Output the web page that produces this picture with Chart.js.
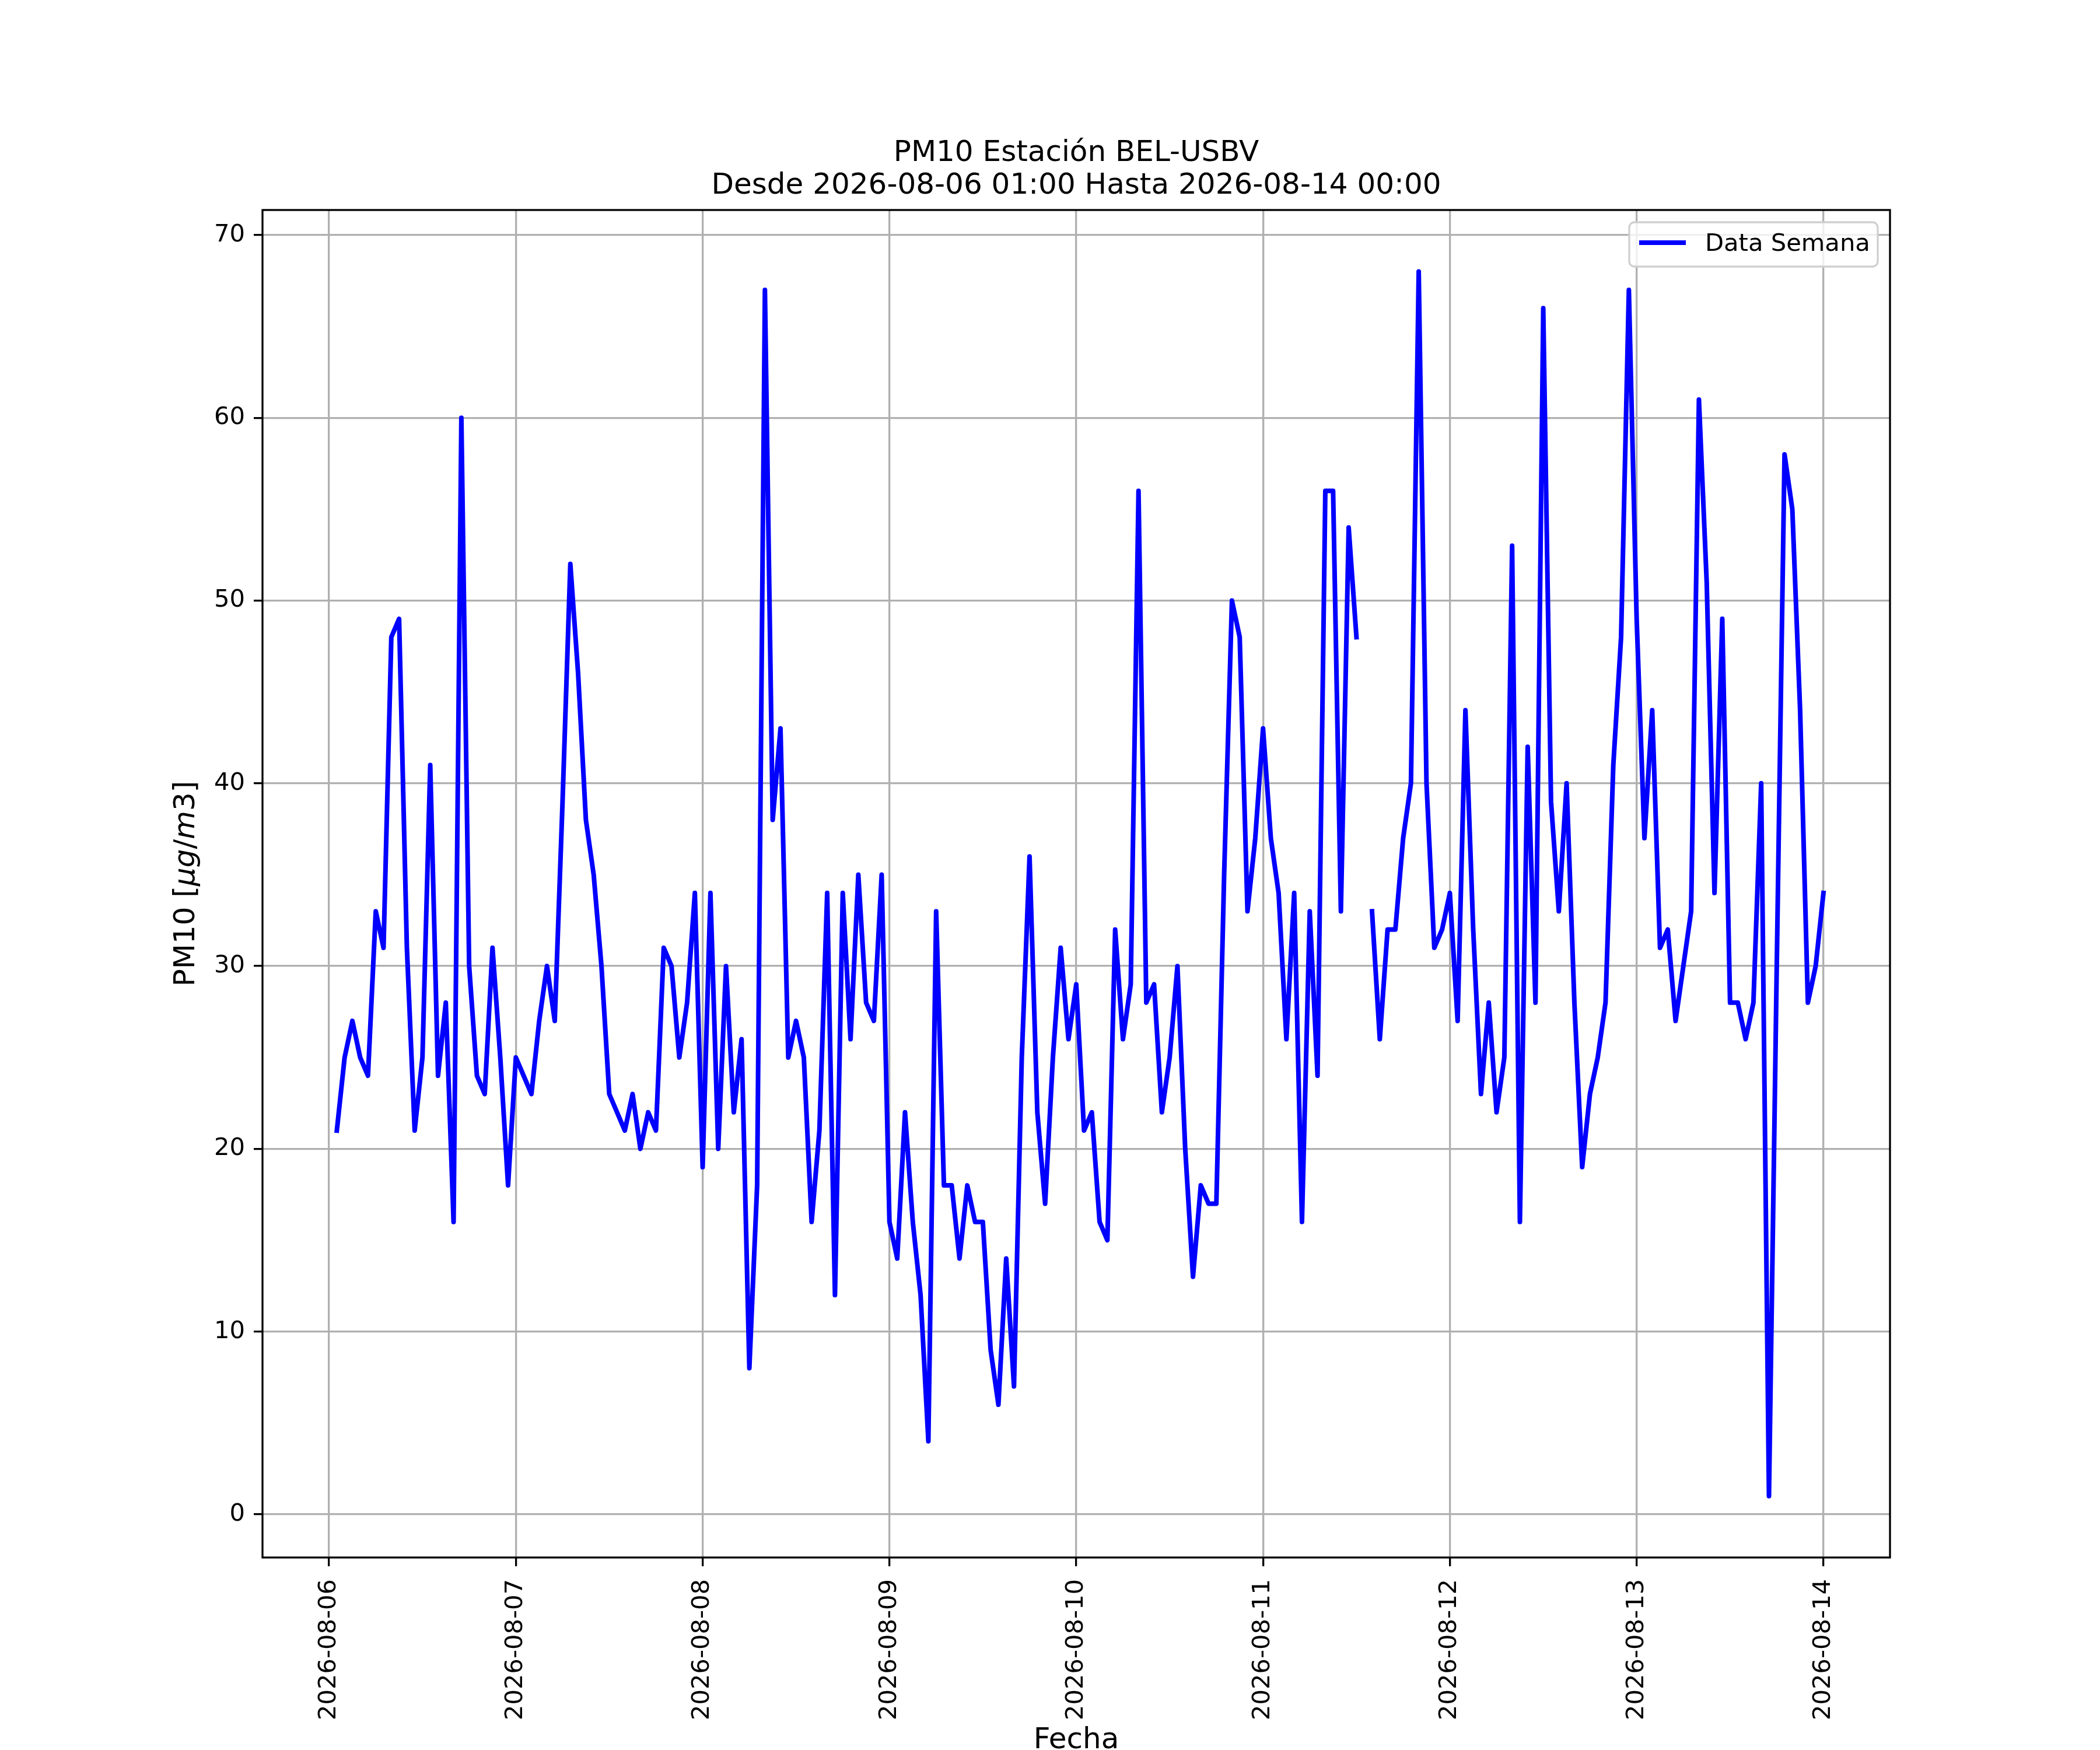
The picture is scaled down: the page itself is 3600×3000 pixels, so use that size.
<!DOCTYPE html>
<html>
<head>
<meta charset="utf-8">
<script src="https://cdn.jsdelivr.net/npm/chart.js@4/dist/chart.umd.min.js"></script>
<style>
  body { margin: 0; background: #ffffff; }
  canvas { display: block; }
</style>
</head>
<body>
<canvas id="pm10" width="3600" height="3000" style="width:3600px;height:3000px"></canvas>
<script>
// valores horarios PM10, cada lista va de 01:00 hasta 00:00 del dia siguiente
const dia06 = [21, 25, 27, 25, 24, 33, 31, 48, 49, 31, 21, 25, 41, 24, 28, 16, 60, 30, 24, 23, 31, 25, 18, 25];
const dia07 = [24, 23, 27, 30, 27, 39, 52, 46, 38, 35, 30, 23, 22, 21, 23, 20, 22, 21, 31, 30, 25, 28, 34, 19];
const dia08 = [34, 20, 30, 22, 26, 8, 18, 67, 38, 43, 25, 27, 25, 16, 21, 34, 12, 34, 26, 35, 28, 27, 35, 16];
const dia09 = [14, 22, 16, 12, 4, 33, 18, 18, 14, 18, 16, 16, 9, 6, 14, 7, 25, 36, 22, 17, 25, 31, 26, 29];
const dia10 = [21, 22, 16, 15, 32, 26, 29, 56, 28, 29, 22, 25, 30, 20, 13, 18, 17, 17, 35, 50, 48, 33, 37, 43];
const dia11 = [37, 34, 26, 34, 16, 33, 24, 56, 56, 33, 54, 48, null, 33, 26, 32, 32, 37, 40, 68, 40, 31, 32, 34];
const dia12 = [27, 44, 32, 23, 28, 22, 25, 53, 16, 42, 28, 66, 39, 33, 40, 28, 19, 23, 25, 28, 41, 48, 67, 49];
const dia13 = [37, 44, 31, 32, 27, 30, 33, 61, 51, 34, 49, 28, 28, 26, 28, 40, 1, 30, 58, 55, 44, 28, 30, 34];

const fechas = ['2026-08-06', '2026-08-07', '2026-08-08', '2026-08-09', '2026-08-10',
                '2026-08-11', '2026-08-12', '2026-08-13', '2026-08-14'];
const ticksY = [0, 10, 20, 30, 40, 50, 60, 70];

const titulo = ['PM10 Estación BEL-USBV', 'Desde 2026-08-06 01:00 Hasta 2026-08-14 00:00'];
const etiqueta = 'Data Semana';
// etiqueta eje y: [texto, cursiva]
const ejeY = [['PM10 [', false], ['μg', true], ['/', false], ['m', true], ['3', false], [']', false]];

// x = horas desde 2026-08-06 00:00
const valores = [].concat(dia06, dia07, dia08, dia09, dia10, dia11, dia12, dia13);
const puntos = valores.map((v, i) => ({ x: i + 1, y: v }));

const FUENTE = 'DejaVu Sans';

// marco completo tipo matplotlib
const marco = {
  id: 'marco',
  afterDatasetsDraw(chart) {
    const a = chart.chartArea, ctx = chart.ctx;
    ctx.save();
    ctx.strokeStyle = '#000000';
    ctx.lineWidth = 3.3;
    ctx.strokeRect(a.left, a.top, a.right - a.left, a.bottom - a.top);
    ctx.restore();
  }
};

// titulo del eje y con partes en cursiva (como mathtext)
const tituloY = {
  id: 'tituloY',
  afterDraw(chart) {
    const a = chart.chartArea, ctx = chart.ctx;
    ctx.save();
    ctx.fillStyle = '#000000';
    ctx.textBaseline = 'middle';
    ctx.textAlign = 'left';
    const fuente = it => (it ? 'italic ' : '') + '50px "' + FUENTE + '"';
    let ancho = 0;
    ejeY.forEach(([t, it]) => { ctx.font = fuente(it); ancho += ctx.measureText(t).width; });
    ctx.translate(320, (a.top + a.bottom) / 2);
    ctx.rotate(-Math.PI / 2);
    let x = -ancho / 2;
    ejeY.forEach(([t, it]) => {
      ctx.font = fuente(it);
      ctx.fillText(t, x, 0);
      x += ctx.measureText(t).width;
    });
    ctx.restore();
  }
};

// leyenda dentro del grafico, arriba a la derecha
const leyenda = {
  id: 'leyenda',
  afterDraw(chart) {
    const ctx = chart.ctx;
    const ds = chart.data.datasets[0];
    const x0 = 2793, y0 = 381, x1 = 3219, y1 = 457, r = 9;
    ctx.save();
    ctx.beginPath();
    ctx.roundRect(x0, y0, x1 - x0, y1 - y0, r);
    ctx.fillStyle = 'rgba(255,255,255,0.8)';
    ctx.fill();
    ctx.strokeStyle = '#d0d0d0';
    ctx.lineWidth = 3.3;
    ctx.stroke();
    ctx.beginPath();
    ctx.moveTo(2810, 416);
    ctx.lineTo(2890, 416);
    ctx.strokeStyle = ds.borderColor;
    ctx.lineWidth = ds.borderWidth;
    ctx.stroke();
    ctx.fillStyle = '#000000';
    ctx.font = '41.67px "' + FUENTE + '"';
    ctx.textBaseline = 'alphabetic';
    ctx.textAlign = 'left';
    ctx.fillText(ds.label, 2923, 430);
    ctx.restore();
  }
};

new Chart(document.getElementById('pm10'), {
  type: 'line',
  data: {
    datasets: [{
      label: etiqueta,
      data: puntos,
      borderColor: '#0000ff',
      borderWidth: 8,
      borderJoinStyle: 'round',
      borderCapStyle: 'square',
      pointRadius: 0,
      tension: 0,
      spanGaps: false,
      fill: false
    }]
  },
  options: {
    responsive: false,
    animation: false,
    devicePixelRatio: 1,
    layout: { padding: { left: 0, right: 360, top: 0, bottom: 0 } },
    plugins: {
      legend: { display: false },
      tooltip: { enabled: false },
      title: {
        display: true,
        // solo sobre el area del grafico, asi queda centrado como en matplotlib
        fullSize: false,
        text: titulo,
        color: '#000000',
        font: { family: FUENTE, size: 50, weight: 'normal', lineHeight: 1.12 },
        padding: { top: 235, bottom: 13 }
      }
    },
    scales: {
      x: {
        type: 'linear',
        min: -8.55,
        max: 200.55,
        afterBuildTicks: s => { s.ticks = fechas.map((f, i) => ({ value: i * 24 })); },
        afterFit: s => { s.height = 330; },
        ticks: {
          autoSkip: false,
          minRotation: 90,
          maxRotation: 90,
          padding: 22,
          color: '#000000',
          font: { family: FUENTE, size: 41.67 },
          callback: v => fechas[Math.round(v / 24)]
        },
        grid: {
          color: '#b0b0b0',
          lineWidth: 3.3,
          tickColor: '#000000',
          tickWidth: 3.3,
          tickLength: 15
        },
        border: { display: false },
        title: {
          display: true,
          text: 'Fecha',
          color: '#000000',
          font: { family: FUENTE, size: 50, lineHeight: 1.0 },
          padding: { top: 0, bottom: -9 }
        }
      },
      y: {
        type: 'linear',
        min: -2.36,
        max: 71.37,
        afterBuildTicks: s => { s.ticks = ticksY.map(v => ({ value: v })); },
        afterFit: s => { s.width = 450; },
        ticks: {
          padding: 15,
          color: '#000000',
          font: { family: FUENTE, size: 41.67 }
        },
        grid: {
          color: '#b0b0b0',
          lineWidth: 3.3,
          tickColor: '#000000',
          tickWidth: 3.3,
          tickLength: 15
        },
        border: { display: false },
        title: { display: false }
      }
    }
  },
  plugins: [marco, tituloY, leyenda]
});
</script>
</body>
</html>
